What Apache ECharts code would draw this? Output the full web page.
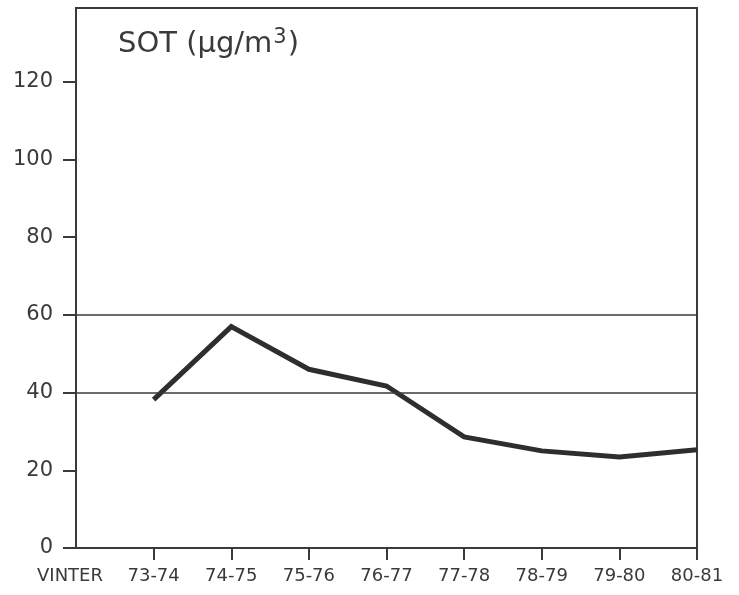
<!DOCTYPE html>
<html>
<head>
<meta charset="utf-8">
<script src="https://cdn.jsdelivr.net/npm/echarts@6/dist/echarts.min.js"></script>
<style>
  html, body { margin: 0; padding: 0; background: #fff; }
  #chart { width: 739px; height: 595px; }
</style>
</head>
<body>
<div id="chart"></div>
<script>
// Winter seasons (first slot is the axis caption)
const seasons = ['VINTER', '73-74', '74-75', '75-76', '76-77', '77-78', '78-79', '79-80', '80-81'];
// Mean soot concentration per winter, µg/m³
const sotValues = [null, 38.2, 57.0, 46.0, 41.7, 28.6, 25.0, 23.4, 25.3];
// Reference levels drawn across the plot
const guideLevels = [40, 60];

const ink = '#3a3a3a';
const font = 'DejaVu Sans';

const chart = echarts.init(document.getElementById('chart'));
chart.setOption({
  animation: false,
  backgroundColor: '#fff',
  title: {
    text: 'SOT (µg/m{sup|3})',
    left: 113,
    top: 22,
    textStyle: {
      fontFamily: font,
      fontSize: 29,
      fontWeight: 'normal',
      color: ink,
      rich: {
        sup: { fontFamily: font, fontSize: 21, color: ink, padding: [0, 1, 13, 1] }
      }
    }
  },
  grid: {
    left: 76, right: 42, top: 8, bottom: 47,
    show: true, borderColor: ink, borderWidth: 2, backgroundColor: 'transparent'
  },
  xAxis: {
    type: 'category',
    data: seasons,
    boundaryGap: false,
    axisLine: { lineStyle: { color: ink, width: 2 } },
    axisTick: {
      length: 12,
      lineStyle: { color: ink, width: 2 },
      interval: (i) => i !== 0
    },
    axisLabel: {
      color: ink,
      fontFamily: font,
      fontSize: 18,
      margin: 19,
      interval: 0,
      formatter: (v) => v === 'VINTER' ? '{v|' + v + '}' : v,
      rich: { v: { fontFamily: font, fontSize: 18, color: ink, padding: [0, 12, 0, 0] } }
    },
    splitLine: { show: false }
  },
  yAxis: {
    type: 'value',
    min: 0,
    max: 139,
    interval: 20,
    axisLine: { show: true, lineStyle: { color: ink, width: 2 } },
    axisTick: { show: true, length: 13, lineStyle: { color: ink, width: 2 } },
    axisLabel: {
      color: ink, fontFamily: font, fontSize: 21, margin: 23,
      showMaxLabel: false
    },
    splitLine: { show: false }
  },
  series: [{
    type: 'line',
    data: sotValues,
    symbol: 'none',
    connectNulls: false,
    lineStyle: { color: '#2e2e2e', width: 5, join: 'miter' },
    markLine: {
      silent: true,
      symbol: 'none',
      label: { show: false },
      lineStyle: { color: ink, width: 1.6, type: 'solid' },
      data: guideLevels.map((v) => ({ yAxis: v }))
    }
  }]
});
</script>
</body>
</html>
